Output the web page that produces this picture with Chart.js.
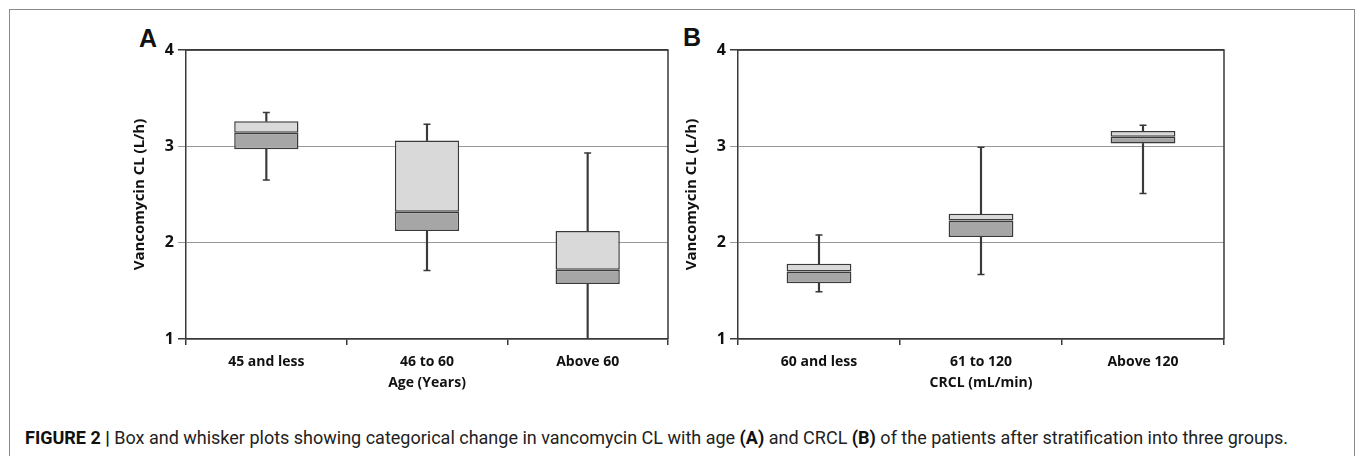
<!DOCTYPE html>
<html>
<head>
<meta charset="utf-8">
<script src="https://cdn.jsdelivr.net/npm/chart.js@4.4.0/dist/chart.umd.min.js"></script>
<style>
  body { margin: 0; width: 1355px; height: 456px; background: #fff; position: relative; overflow: hidden; }
  #frame { position: absolute; left: 9px; top: 9px; width: 1344px; height: 470px; border: 1px solid #8a8a8a; border-bottom: none; }
  .letter { position: absolute; font: bold 25px "Liberation Sans", Arial, sans-serif; color: #111; }
  #caption { position: absolute; left: 25px; top: 427px; font: 18px Roboto, "Liberation Sans", sans-serif; color: #222; white-space: nowrap; }
  #caption b { font-weight: bold; color: #111; }
  canvas { position: absolute; }
</style>
</head>
<body>
<div id="frame"></div>
<div class="letter" style="left:139px;top:24px">A</div>
<div class="letter" style="left:683px;top:23px">B</div>
<canvas id="chartA" width="552" height="370" style="left:128px;top:30px"></canvas>
<canvas id="chartB" width="556" height="370" style="left:680px;top:30px"></canvas>
<div id="caption"><b>FIGURE 2 |</b> Box and whisker plots showing categorical change in vancomycin CL with age <b>(A)</b> and CRCL <b>(B)</b> of the patients after stratification into three groups.</div>

<script>
// Panel A - age groups
const ageLabels = ['45 and less', '46 to 60', 'Above 60'];
const ageMin = [2.65, 1.71, 1.00];
const ageQ1 = [2.97, 2.12, 1.57];
const ageMedian = [3.14, 2.32, 1.72];
const ageQ3 = [3.26, 3.06, 2.12];
const ageMax = [3.35, 3.23, 2.93];

// Panel B - CRCL groups
const crclLabels = ['60 and less', '61 to 120', 'Above 120'];
const crclMin = [1.49, 1.67, 2.51];
const crclQ1 = [1.58, 2.06, 3.03];
const crclMedian = [1.70, 2.23, 3.10];
const crclQ3 = [1.78, 2.30, 3.16];
const crclMax = [2.08, 2.99, 3.22];

const yTicks = [1, 2, 3, 4];

const dark = '#3a3a3a';
const fontFamily = '"Open Sans", Lato, sans-serif';
const tickFont = { family: fontFamily, size: 14, weight: 'bold' };

// top and right edge of the plot box
const plotBox = {
    id: 'plotBox',
    afterDraw(chart) {
        const a = chart.chartArea, ctx = chart.ctx;
        ctx.save();
        ctx.strokeStyle = dark;
        ctx.lineWidth = 1.5;
        ctx.beginPath();
        ctx.moveTo(a.left, a.top);
        ctx.lineTo(a.right, a.top);
        ctx.lineTo(a.right, a.bottom);
        ctx.stroke();
        ctx.restore();
    }
};

function whisker(label, data) {
    return {
        label: label,
        data: data,
        backgroundColor: dark,
        barThickness: 1.5,
        grouped: false,
        order: 3
    };
}

function box(label, data, color) {
    return {
        label: label,
        data: data,
        backgroundColor: color,
        borderColor: dark,
        borderWidth: 1.5,
        borderSkipped: false,
        categoryPercentage: 1,
        barPercentage: 0.4,
        grouped: false,
        order: 1
    };
}

function cap(label, data) {
    return {
        type: 'line',
        label: label,
        data: data,
        showLine: false,
        pointStyle: 'line',
        pointRadius: 3.5,
        pointBorderWidth: 1.5,
        pointBorderColor: dark,
        order: 2
    };
}

function makeBox(id, labels, mins, q1s, meds, q3s, maxs, xTitle) {
    new Chart(document.getElementById(id), {
        type: 'bar',
        data: {
            labels: labels,
            datasets: [
                whisker('Lower whisker', labels.map((_, i) => [mins[i], q1s[i]])),
                whisker('Upper whisker', labels.map((_, i) => [q3s[i], maxs[i]])),
                box('Q1 to median', labels.map((_, i) => [q1s[i], meds[i]]), '#a6a6a6'),
                box('Median to Q3', labels.map((_, i) => [meds[i], q3s[i]]), '#d9d9d9'),
                cap('Max', maxs),
                cap('Min', mins)
            ]
        },
        options: {
            responsive: false,
            animation: false,
            layout: { padding: { top: 20, right: 12, left: 0, bottom: 0 } },
            plugins: { legend: { display: false }, tooltip: { enabled: false } },
            scales: {
                x: {
                    afterFit: s => { s.height = 61; },
                    grid: { drawOnChartArea: false, drawTicks: true, tickLength: 6, color: dark, lineWidth: 1.5 },
                    border: { color: dark, width: 1.5 },
                    ticks: { color: '#111', font: tickFont, padding: 9, maxRotation: 0 },
                    title: { display: true, text: xTitle, color: '#111', font: tickFont, padding: { top: 2, bottom: 9 } }
                },
                y: {
                    min: 1,
                    max: 4,
                    afterFit: s => { s.width = 58; },
                    afterBuildTicks: s => { s.ticks = yTicks.map(v => ({ value: v })); },
                    grid: {
                        tickLength: 8,
                        color: c => (c.tick && (c.tick.value === 4 || c.tick.value === 1)) ? dark : '#999',
                        lineWidth: c => (c.tick && (c.tick.value === 4 || c.tick.value === 1)) ? 1.5 : 1
                    },
                    border: { color: dark, width: 1.5 },
                    ticks: { color: '#111', font: { family: fontFamily, size: 16, weight: 'bold' }, padding: 4 },
                    title: { display: true, text: 'Vancomycin CL (L/h)', color: '#111', font: { family: fontFamily, size: 15, weight: 'bold' }, padding: { top: 3, bottom: 0 } }
                }
            }
        },
        plugins: [plotBox]
    });
}

makeBox('chartA', ageLabels, ageMin, ageQ1, ageMedian, ageQ3, ageMax, 'Age (Years)');
makeBox('chartB', crclLabels, crclMin, crclQ1, crclMedian, crclQ3, crclMax, 'CRCL (mL/min)');
</script>
</body>
</html>
